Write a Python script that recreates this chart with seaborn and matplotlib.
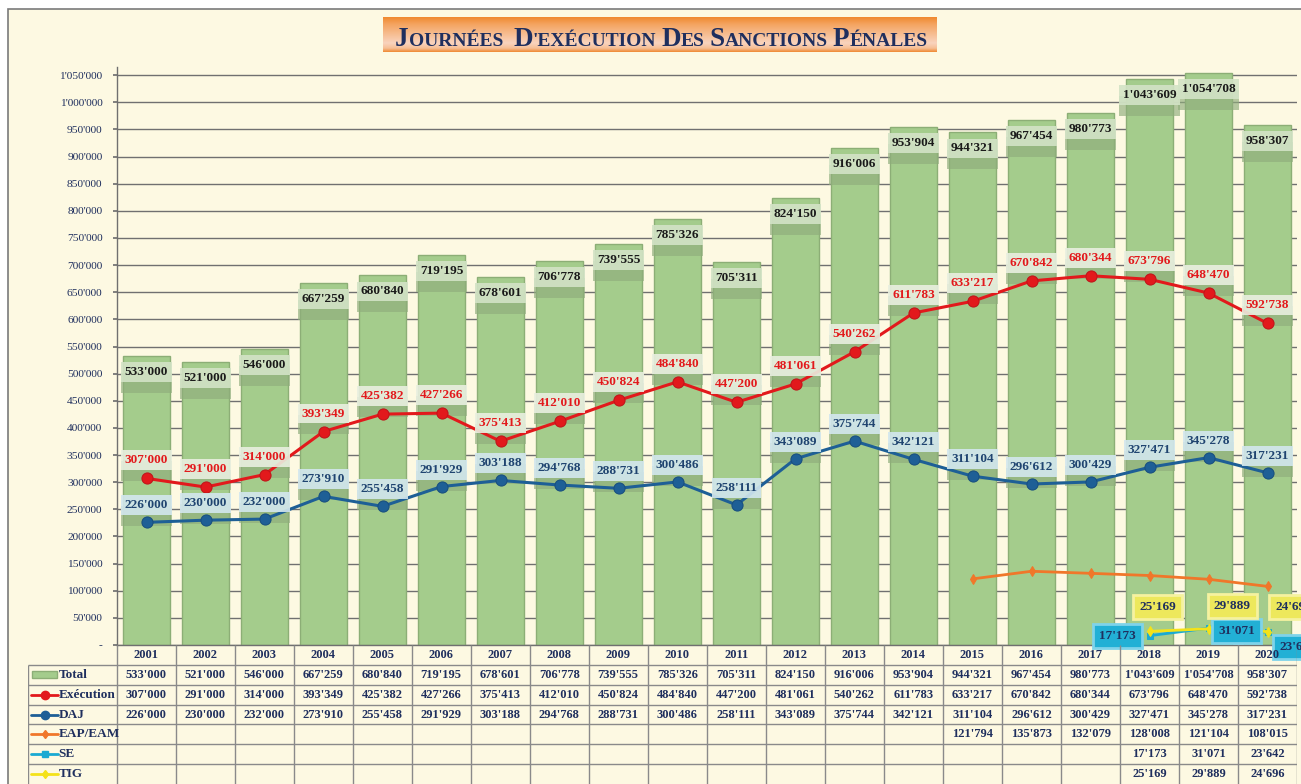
import numpy as np
import pandas as pd
import seaborn as sns
import matplotlib.pyplot as plt
import matplotlib.colors as mcolors
from matplotlib.patches import Rectangle

nan = np.nan
years = [str(y) for y in range(2001, 2021)]
total = [533000, 521000, 546000, 667259, 680840, 719195, 678601, 706778, 739555, 785326,
         705311, 824150, 916006, 953904, 944321, 967454, 980773, 1043609, 1054708, 958307]
execution = [307000, 291000, 314000, 393349, 425382, 427266, 375413, 412010, 450824, 484840,
             447200, 481061, 540262, 611783, 633217, 670842, 680344, 673796, 648470, 592738]
daj = [226000, 230000, 232000, 273910, 255458, 291929, 303188, 294768, 288731, 300486,
       258111, 343089, 375744, 342121, 311104, 296612, 300429, 327471, 345278, 317231]
eap = [nan] * 14 + [121794, 135873, 132079, 128008, 121104, 108015]
se = [nan] * 17 + [17173, 31071, 23642]
tig = [nan] * 17 + [25169, 29889, 24696]

CREAM = '#FDF9E2'
BAR = '#A4CC8C'
BAR_EDGE = '#8CAE76'
RED = '#E2191C'
BLUE = '#1E5F96'
ORANGE = '#F0772A'
CYAN = '#1AAAD2'
YELLOW = '#F4E219'
NAVY = '#1F2F5E'
GRID = '#707070'

W, H = 1301, 784


def fx(px):
    return px / W


def fy(py):
    return 1 - py / H


def fmt(v):
    return f"{int(v):,}".replace(",", "'")


def label(ax, x, y, txt, dx, dy, color, face, band='#8fad7c'):
    # darker band under the label, then the label itself
    ax.annotate(txt, xy=(x, y), xytext=(dx, dy - 11), textcoords='offset pixels',
                ha='center', va='center', fontsize=9.5, fontweight='bold', color='none',
                bbox=dict(boxstyle='square,pad=0.3', fc=band, ec='none', alpha=0.65), zorder=3)
    ax.annotate(txt, xy=(x, y), xytext=(dx, dy), textcoords='offset pixels',
                ha='center', va='center', fontsize=9.5, fontweight='bold', color=color,
                bbox=dict(boxstyle='square,pad=0.3', fc=face, ec='none', alpha=0.9), zorder=5)


df = pd.DataFrame({'year': years, 'total': total, 'execution': execution, 'daj': daj,
                   'eap': eap, 'se': se, 'tig': tig})

sns.set_theme(style='white')
plt.rcParams['font.family'] = ['Liberation Serif', 'DejaVu Serif']

fig = plt.figure(figsize=(13.01, 7.84), dpi=100)
fig.patch.set_facecolor('white')
fig.patches.append(Rectangle((fx(8), -0.1), 1.2, fy(9) + 0.1, transform=fig.transFigure,
                             facecolor=CREAM, edgecolor='#7a7a7a', lw=1.2, zorder=-1))

# main chart
ax = fig.add_axes([fx(117), fy(645), fx(1297) - fx(117), (645 - 67) / H])
ax.set_facecolor('none')
sns.barplot(data=df, x='year', y='total', ax=ax, color=BAR, edgecolor=BAR_EDGE,
            linewidth=1, saturation=1, width=0.8, zorder=2)
sns.lineplot(x=df.index, y='execution', data=df, ax=ax, color=RED, lw=2.2, marker='o',
             markersize=8, markeredgecolor='#C0151A', zorder=4)
sns.lineplot(x=df.index, y='daj', data=df, ax=ax, color=BLUE, lw=2.2, marker='o',
             markersize=8, markeredgecolor='#184F7F', zorder=4)
sns.lineplot(x=df.index, y='eap', data=df, ax=ax, color=ORANGE, lw=2, marker='d',
             markersize=5, markeredgecolor=ORANGE, zorder=4)
sns.lineplot(x=df.index, y='se', data=df, ax=ax, color=CYAN, lw=2, marker='s',
             markersize=5, markeredgecolor=CYAN, zorder=4)
sns.lineplot(x=df.index, y='tig', data=df, ax=ax, color=YELLOW, lw=2, marker='d',
             markersize=5, markeredgecolor=YELLOW, zorder=4)

ax.set_xlim(-0.5, 19.5)
ax.set_ylim(0, 1065000)
ticks = np.arange(0, 1050001, 50000)
ax.set_yticks(ticks)
ax.set_yticklabels(['-'] + [fmt(t) for t in ticks[1:]], fontsize=8.2, color=NAVY)
ax.tick_params(axis='y', length=3, color=GRID, direction='out', pad=7.5, left=True)
ax.set_xticks([])
ax.set_xlabel('')
ax.set_ylabel('')
ax.yaxis.grid(True, color=GRID, lw=1)
ax.set_axisbelow(True)
for side in ['top', 'right']:
    ax.spines[side].set_visible(False)
for side in ['left', 'bottom']:
    ax.spines[side].set_color(GRID)
    ax.spines[side].set_linewidth(1)

for i, v in enumerate(total):
    label(ax, i, v, fmt(v), 0, -16, '#1a1a1a', '#D3E3C6')
for i, v in enumerate(execution):
    label(ax, i, v, fmt(v), 0, 18, RED, '#E9EFE0')
for i, v in enumerate(daj):
    label(ax, i, v, fmt(v), 0, 17, '#1F4470', '#D3E7EF')

se_off = [(-32, 0), (28, -3), (30, -15)]
tig_off = [(8, 24), (24, 23), (26, 25)]
for k, i in enumerate(range(17, 20)):
    ax.annotate(fmt(se[i]), xy=(i, se[i]), xytext=se_off[k], textcoords='offset pixels',
                ha='center', va='center', fontsize=9.5, fontweight='bold', color=NAVY,
                bbox=dict(boxstyle='square,pad=0.45', fc='#22B0D5', ec='#7fd3ea', lw=2), zorder=6)
    ax.annotate(fmt(tig[i]), xy=(i, tig[i]), xytext=tig_off[k], textcoords='offset pixels',
                ha='center', va='center', fontsize=9.5, fontweight='bold', color=NAVY,
                bbox=dict(boxstyle='square,pad=0.45', fc='#EDE85C', ec='#f5f2a0', lw=2), zorder=6)

# title banner
tax = fig.add_axes([fx(383), fy(52), fx(937) - fx(383), 35 / H])
cmap = mcolors.LinearSegmentedColormap.from_list(
    'banner', [(0, '#F08A30'), (0.2, '#F4A460'), (0.75, '#F9D4BE'), (0.9, '#F6BE94'), (1, '#F08C38')])
tax.imshow(np.linspace(0, 1, 60).reshape(-1, 1), aspect='auto', cmap=cmap, extent=[0, 1, 0, 1])
tax.axis('off')

pieces = [('J', True), ('OURNÉES', False), ('  ', False), ('D', True), ("'EXÉCUTION", False),
          (' ', False), ('D', True), ('ES', False), (' ', False), ('S', True), ('ANCTIONS', False),
          (' ', False), ('P', True), ('ÉNALES', False)]
renderer = fig.canvas.get_renderer()
xpos = fx(395)
for s, big in pieces:
    size = 19.5 if big else 14
    if s.strip() == '':
        xpos += fx(5 * len(s))
        continue
    t = fig.text(xpos, fy(46), s, fontsize=size, fontweight='bold', color=NAVY,
                 va='baseline', ha='left', zorder=5)
    xpos += t.get_window_extent(renderer).width / W

# data table
tb = fig.add_axes([fx(28), 0, fx(1297) - fx(28), 139 / H])
tb.set_xlim(-2, 19.5)
tb.set_ylim(0, 7)
tb.axis('off')
tb.vlines(np.arange(-0.5, 20), 0, 7, color='#8a8a8a', lw=1)
tb.vlines(-2, 0, 6, color='#8a8a8a', lw=1)
tb.hlines(np.arange(1, 7), -2, 19.5, color='#8a8a8a', lw=1)
for i, y in enumerate(years):
    tb.text(i, 6.5, y, ha='center', va='center', fontsize=9, fontweight='bold', color=NAVY)

rows = [('Total', total, None, None), ('Exécution', execution, RED, 'o'),
        ('DAJ', daj, BLUE, 'o'), ('EAP/EAM', eap, ORANGE, 'd'),
        ('SE', se, CYAN, 's'), ('TIG', tig, YELLOW, 'd')]
for r, (name, vals, col, mk) in enumerate(rows):
    yc = 5.5 - r
    if col is None:
        tb.add_patch(Rectangle((-1.93, yc - 0.18), 0.42, 0.36, fc=BAR, ec=BAR_EDGE, lw=1))
    else:
        tb.plot([-1.95, -1.5], [yc, yc], color=col, lw=2)
        tb.plot([-1.72], [yc], marker=mk, color=col, markersize=6 if mk == 'o' else 4.5)
    tb.text(-1.48, yc, name, ha='left', va='center', fontsize=9.5, fontweight='bold', color=NAVY)
    for i, v in enumerate(vals):
        if not np.isnan(v):
            tb.text(i, yc, fmt(v), ha='center', va='center', fontsize=9,
                    fontweight='bold', color=NAVY)

fig.savefig('out.png', dpi=100)
plt.close(fig)
